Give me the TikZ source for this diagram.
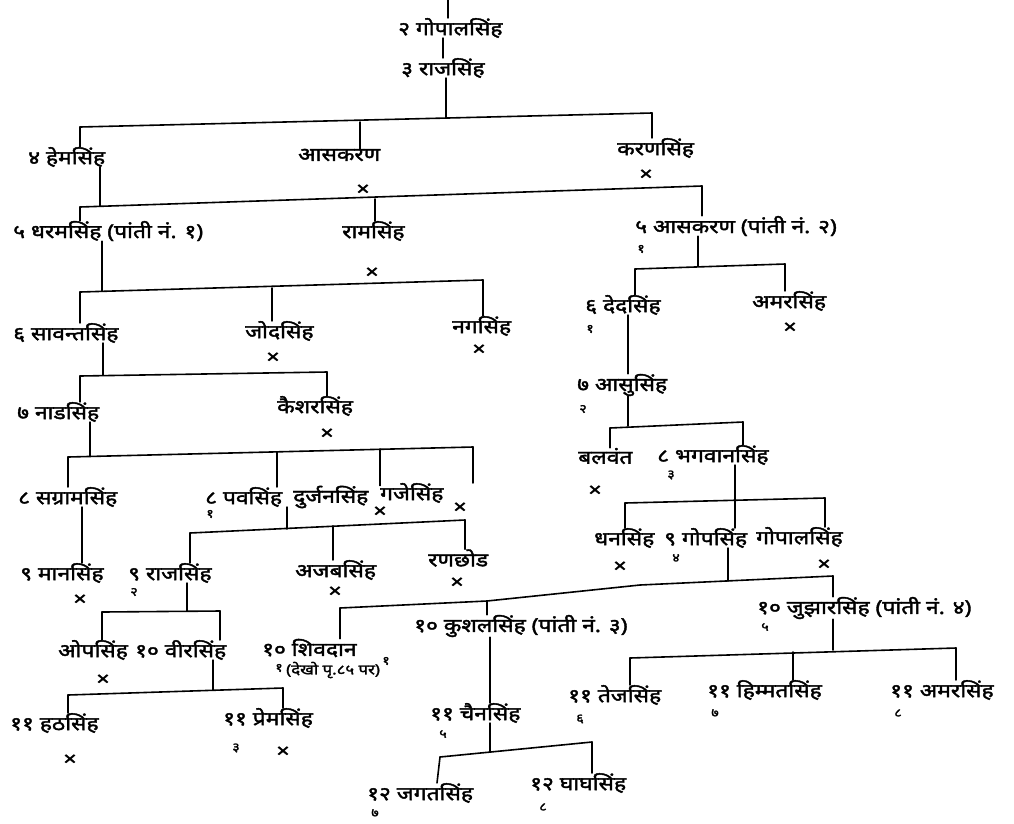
\documentclass[tikz,border=0pt]{standalone}
\usepackage{fontspec}
\newfontfamily\dev[Script=Devanagari,FakeBold=2,FakeStretch=1.2]{Noto Sans}
\usetikzlibrary{calc}
\tikzset{
  nm/.style={anchor=west, inner sep=0pt, font=\dev\fontsize{19}{21}\selectfont},
  sm/.style={anchor=west, inner sep=0pt, font=\dev\fontsize{14}{16}\selectfont},
  dd/.style={inner sep=0pt, font=\dev\fontsize{19}{20}\selectfont},
  sb/.style={inner sep=0pt, font=\dev\fontsize{12}{13}\selectfont},
  ln/.style={line width=1.6pt, line cap=round},
}
\begin{document}
\begin{tikzpicture}[x=1pt,y=-1pt]
\useasboundingbox (0,0) rectangle (1014,823);
% ---------- nodes ----------
\node[nm] (gopal2) at (398,28) {२ गोपालसिंह};
\node[nm] (raj3) at (401,68) {३ राजसिंह};
\node[nm] (hem) at (28,157) {४ हेमसिंह};
\node[nm] (asak4) at (298,155) {आसकरण};
\node[dd] (asak4x) at (363,190) {×};
\node[nm] (karan) at (617,148) {करणसिंह};
\node[dd] (karanx) at (646,175) {×};
\node[nm] (dharam) at (13,231) {५ धरमसिंह (पांती नं. १)};
\node[nm] (ram) at (342,231) {रामसिंह};
\node[dd] (ramx) at (372,273) {×};
\node[nm] (asak5) at (635,226) {५ आसकरण (पांती नं. २)};
\node[sb] (asak5s) at (641,249) {१};
\node[nm] (savant) at (13,333) {६ सावन्तसिंह};
\node[nm] (jod) at (245,331) {जोदसिंह};
\node[dd] (jodx) at (273,358) {×};
\node[nm] (nag) at (452,326) {नगसिंह};
\node[dd] (nagx) at (479,350) {×};
\node[nm] (ded) at (585,305) {६ देदसिंह};
\node[sb] (deds) at (590,329) {१};
\node[nm] (amar6) at (752,301) {अमरसिंह};
\node[dd] (amar6x) at (790,328) {×};
\node[nm] (nad) at (17,412) {७ नाडसिंह};
\node[nm] (keshar) at (277,406) {कैशरसिंह};
\node[dd] (kesharx) at (327,434) {×};
\node[nm] (asu) at (577,385) {७ आसुसिंह};
\node[sb] (asus) at (583,409) {२};
\node[nm] (sangram) at (18,497) {८ सग्रामसिंह};
\node[nm] (pav) at (205,497) {८ पवसिंह};
\node[sb] (pavs) at (210,514) {१};
\node[nm] (durjan) at (293,497) {दुर्जनसिंह};
\node[dd] (durjanx) at (380,512) {×};
\node[nm] (gaje) at (380,493) {गजेसिंह};
\node[dd] (gajex) at (460,508) {×};
\node[nm] (bal) at (578,456) {बलवंत};
\node[dd] (balx) at (595,491) {×};
\node[nm] (bhag) at (657,455) {८ भगवानसिंह};
\node[sb] (bhags) at (671,475) {३};
\node[nm] (man) at (20,573) {९ मानसिंह};
\node[dd] (manx) at (80,600) {×};
\node[nm] (raj9) at (128,573) {९ राजसिंह};
\node[sb] (raj9s) at (134,592) {२};
\node[nm] (ajab) at (295,570) {अजबसिंह};
\node[dd] (ajabx) at (335,592) {×};
\node[nm] (ranchhod) at (428,558) {रणछोड};
\node[dd] (ranchhodx) at (457,583) {×};
\node[nm] (dhan) at (594,538) {धनसिंह};
\node[dd] (dhanx) at (620,567) {×};
\node[nm] (gop) at (664,538) {९ गोपसिंह};
\node[sb] (gops) at (676,558) {४};
\node[nm] (gopal9) at (756,537) {गोपालसिंह};
\node[dd] (gopal9x) at (824,565) {×};
\node[nm] (op) at (58,650) {ओपसिंह};
\node[dd] (opx) at (103,680) {×};
\node[nm] (vir) at (135,650) {१० वीरसिंह};
\node[nm] (shiv) at (262,648) {१० शिवदान};
\node[sm] (shivn) at (286,670) {(देखो पृ.८५ पर)};
\node[sb] (shivs) at (279,668) {१};
\node[sb] (kushals) at (386,661) {१};
\node[nm] (kushal) at (414,626) {१० कुशलसिंह (पांती नं. ३)};
\node[nm] (jujhar) at (757,608) {१० जुझारसिंह (पांती नं. ४)};
\node[sb] (jujhars) at (765,627) {५};
\node[nm] (hath) at (10,723) {११ हठसिंह};
\node[dd] (hathx) at (70,760) {×};
\node[nm] (prem) at (223,718) {११ प्रेमसिंह};
\node[sb] (prems) at (236,748) {३};
\node[dd] (premx) at (283,752) {×};
\node[nm] (chain) at (430,713) {११ चैनसिंह};
\node[sb] (chains) at (443,734) {५};
\node[nm] (tej) at (568,695) {११ तेजसिंह};
\node[sb] (tejs) at (580,719) {६};
\node[nm] (himmat) at (707,690) {११ हिम्मतसिंह};
\node[sb] (himmats) at (715,713) {७};
\node[nm] (amar11) at (890,690) {११ अमरसिंह};
\node[sb] (amar11s) at (898,713) {८};
\node[nm] (jagat) at (367,793) {१२ जगतसिंह};
\node[sb] (jagats) at (375,813) {७};
\node[nm] (ghagh) at (530,783) {१२ घाघसिंह};
\node[sb] (ghaghs) at (543,807) {८};
% ---------- bar coordinates ----------
\coordinate (top) at (448,0);
\coordinate (b1L) at (80,127); \coordinate (b1c) at (360,122); \coordinate (b1m) at (446,118); \coordinate (b1R) at (652,113);
\coordinate (b2L) at (80,207); \coordinate (b2p) at (100,206); \coordinate (b2c) at (375,199); \coordinate (b2R) at (702,186);
\coordinate (b3L) at (80,292); \coordinate (b3p) at (102,291); \coordinate (b3c) at (272,288); \coordinate (b3R) at (483,280);
\coordinate (b4L) at (80,376); \coordinate (b4p) at (103,375); \coordinate (b4R) at (327,372);
\coordinate (b5L) at (68,457); \coordinate (b5p) at (90,456); \coordinate (b5a) at (277,452); \coordinate (b5b) at (380,449); \coordinate (b5R) at (473,447);
\coordinate (smx) at (82,508);
\coordinate (b6L) at (190,533); \coordinate (b6p) at (287,529); \coordinate (b6c) at (333,526); \coordinate (b6R) at (465,520);
\coordinate (b7L) at (102,612); \coordinate (b7p) at (187,611); \coordinate (b7R) at (220,611);
\coordinate (b8L) at (68,695); \coordinate (b8p) at (213,690); \coordinate (b8R) at (283,688);
\coordinate (b9L) at (635,269); \coordinate (b9p) at (698,266); \coordinate (b9R) at (785,264);
\coordinate (dx) at (628,330);
\coordinate (b10L) at (610,428); \coordinate (b10p) at (628,426); \coordinate (b10R) at (743,422);
\coordinate (b11L) at (625,503); \coordinate (b11p) at (735,500); \coordinate (b11R) at (825,498);
\coordinate (b12L) at (340,608); \coordinate (b12a) at (487,601); \coordinate (b12b) at (640,585); \coordinate (b12p) at (728,581); \coordinate (b12R) at (833,576);
\coordinate (kx) at (490,650);
\coordinate (b13L) at (440,757); \coordinate (b13p) at (490,752); \coordinate (b13R) at (592,742);
\coordinate (jg) at (437,775);
\coordinate (b14L) at (630,658); \coordinate (b14c) at (793,652); \coordinate (b14p) at (833,650); \coordinate (b14R) at (956,648);
% ---------- connectors ----------
\draw[ln] (top) -- (top |- gopal2.north);
\draw[ln] (raj3.north |- gopal2.south) -- (raj3.north);
% gen 3 -> 4
\draw[ln] (b1L) -- (b1R);
\draw[ln] (raj3.south -| b1m) -- (b1m);
\draw[ln] (b1L) -- (b1L |- hem.north);
\draw[ln] (b1c) -- (b1c |- asak4.north);
\draw[ln] (b1R) -- (b1R |- karan.north);
% gen 4 -> 5
\draw[ln] (b2L) -- (b2R);
\draw[ln] (hem.south -| b2p) -- (b2p);
\draw[ln] (b2L) -- (b2L |- dharam.north);
\draw[ln] (b2c) -- (b2c |- ram.north);
\draw[ln] (b2R) -- (b2R |- asak5.north);
% dharam -> 6
\draw[ln] (b3L) -- (b3R);
\draw[ln] (dharam.south -| b3p) -- (b3p);
\draw[ln] (b3L) -- (b3L |- savant.north);
\draw[ln] (b3c) -- (b3c |- jod.north);
\draw[ln] (b3R) -- (b3R |- nag.north);
% savant -> 7
\draw[ln] (b4L) -- (b4R);
\draw[ln] (savant.south -| b4p) -- (b4p);
\draw[ln] (b4L) -- (b4L |- nad.north);
\draw[ln] (b4R) -- (b4R |- keshar.north);
% nad -> 8
\draw[ln] (b5L) -- (b5R);
\draw[ln] (nad.south -| b5p) -- (b5p);
\draw[ln] (b5L) -- (b5L |- sangram.north);
\draw[ln] (b5a) -- (b5a |- pav.north);
\draw[ln] (b5b) -- (b5b |- durjan.north);
\draw[ln] (b5R) -- (b5R |- gaje.north);
% sangram -> man
\draw[ln] (sangram.south -| smx) -- (smx |- man.north);
% pav -> 9
\draw[ln] (b6L) -- (b6R);
\draw[ln] (pav.south -| b6p) -- (b6p);
\draw[ln] (b6L) -- (b6L |- raj9.north);
\draw[ln] (b6c) -- (b6c |- ajab.north);
\draw[ln] (b6R) -- (b6R |- ranchhod.north);
% raj9 -> 10
\draw[ln] (b7L) -- (b7R);
\draw[ln] (raj9.south -| b7p) -- (b7p);
\draw[ln] (b7L) -- (b7L |- op.north);
\draw[ln] (b7R) -- (b7R |- vir.north);
% vir -> 11
\draw[ln] (b8L) -- (b8R);
\draw[ln] (vir.south -| b8p) -- (b8p);
\draw[ln] (b8L) -- (b8L |- hath.north);
\draw[ln] (b8R) -- (b8R |- prem.north);
% asak5 -> 6
\draw[ln] (b9L) -- (b9R);
\draw[ln] (asak5.south -| b9p) -- (b9p);
\draw[ln] (b9L) -- (b9L |- ded.north);
\draw[ln] (b9R) -- (b9R |- amar6.north);
% ded -> asu
\draw[ln] (ded.south -| dx) -- (dx |- asu.north);
% asu -> 8
\draw[ln] (b10L) -- (b10R);
\draw[ln] (asu.south -| b10p) -- (b10p);
\draw[ln] (b10L) -- (b10L |- bal.north);
\draw[ln] (b10R) -- (b10R |- bhag.north);
% bhag -> 9
\draw[ln] (b11L) -- (b11R);
\draw[ln] (bhag.south -| b11p) -- (b11p);
\draw[ln] (b11L) -- (b11L |- dhan.north);
\draw[ln] (b11p) -- (b11p |- gop.north);
\draw[ln] (b11R) -- (b11R |- gopal9.north);
% gop -> 10
\draw[ln] (b12L) -- (b12a) -- (b12b) -- (b12R);
\draw[ln] (gop.south -| b12p) -- (b12p);
\draw[ln] (b12L) -- (b12L |- shiv.north);
\draw[ln] (b12a) -- (b12a |- kushal.north);
\draw[ln] (b12R) -- (b12R |- jujhar.north);
% kushal -> chain
\draw[ln] (kushal.south -| kx) -- (kx |- chain.north);
% chain -> 12
\draw[ln] (b13L) -- (b13R);
\draw[ln] (chain.south -| b13p) -- (b13p);
\draw[ln] (b13L) -- (jg |- jagat.north);
\draw[ln] (b13R) -- (b13R |- ghagh.north);
% jujhar -> 11
\draw[ln] (b14L) -- (b14R);
\draw[ln] (jujhar.south -| b14p) -- (b14p);
\draw[ln] (b14L) -- (b14L |- tej.north);
\draw[ln] (b14c) -- (b14c |- himmat.north);
\draw[ln] (b14R) -- (b14R |- amar11.north);
\end{tikzpicture}
\end{document}
